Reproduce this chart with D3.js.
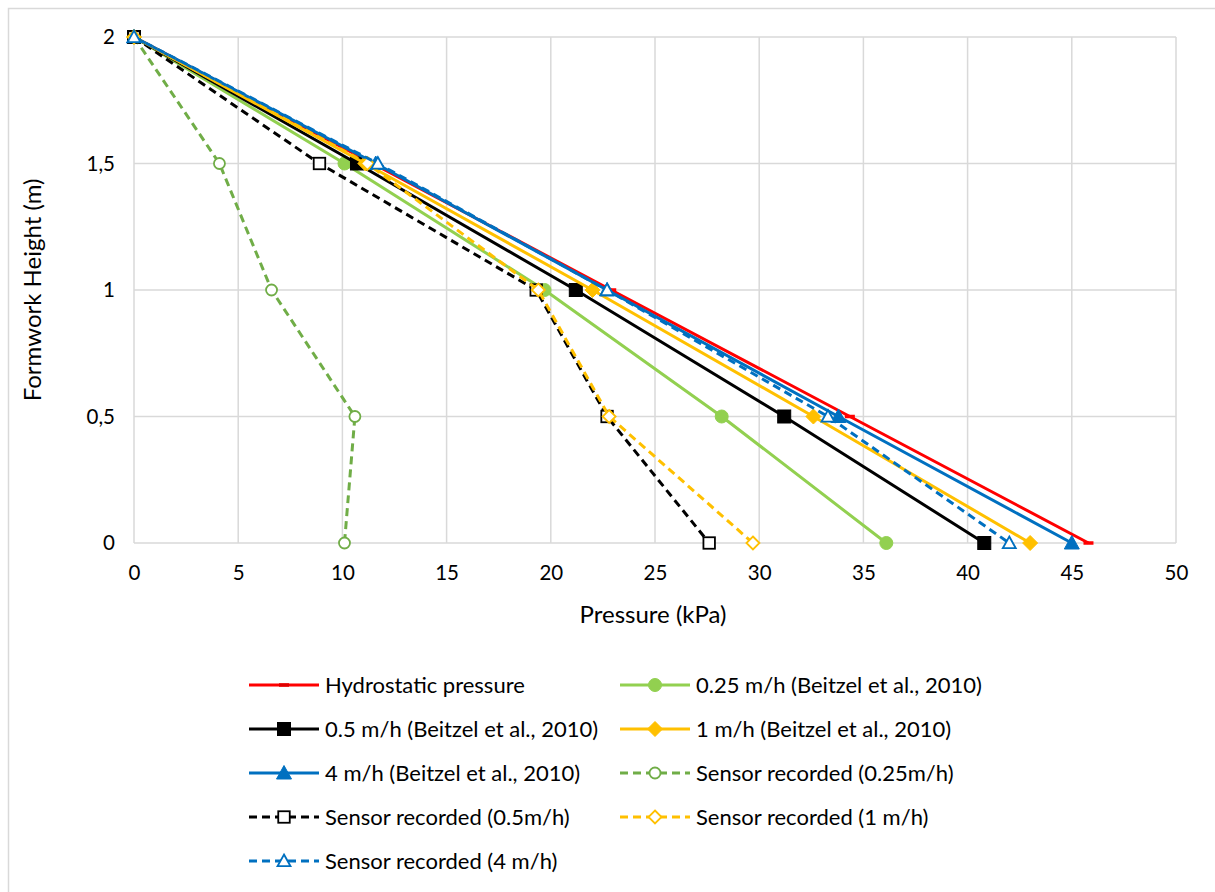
<!DOCTYPE html>
<meta charset="utf-8">
<script src="https://d3js.org/d3.v7.min.js"></script>
<style>
  body { margin: 0; background: #fff; }
  text { font-family: Lato, "Open Sans", sans-serif; fill: #000; }
</style>
<div id="chart"></div>
<script>

// heights (m) shared by every series
var heights = [2, 1.5, 1, 0.5, 0];

// pressures (kPa), one per height
var hydrostatic = [0, 11.45, 22.9, 34.35, 45.8];
var beitzel025 = [0, 10.1, 19.7, 28.2, 36.1];
var beitzel05 = [0, 10.7, 21.2, 31.2, 40.8];
var beitzel1 = [0, 11.1, 22.0, 32.6, 43.0];
var beitzel4 = [0, 11.6, 22.7, 33.8, 45.0];
var sensor025 = [0, 4.1, 6.6, 10.6, 10.1];
var sensor05 = [0, 8.9, 19.3, 22.7, 27.6];
var sensor1 = [0, 11.2, 19.4, 22.8, 29.7];
var sensor4 = [0, 11.7, 22.7, 33.3, 42.0];

var xTicks = [0, 5, 10, 15, 20, 25, 30, 35, 40, 45, 50];
var yTicks = [0, 0.5, 1, 1.5, 2];

var seriesNames = [
  "Hydrostatic pressure",
  "0.25 m/h (Beitzel et al., 2010)",
  "0.5 m/h (Beitzel et al., 2010)",
  "1 m/h (Beitzel et al., 2010)",
  "4 m/h (Beitzel et al., 2010)",
  "Sensor recorded (0.25m/h)",
  "Sensor recorded (0.5m/h)",
  "Sensor recorded (1 m/h)",
  "Sensor recorded (4 m/h)"
];
var seriesValues = [hydrostatic, beitzel025, beitzel05, beitzel1, beitzel4,
                    sensor025, sensor05, sensor1, sensor4];

// style per series
var styles = [
  {color: "#ff0000", dash: null, marker: "dash", fill: true},
  {color: "#92d050", dash: null, marker: "circle", fill: true},
  {color: "#000000", dash: null, marker: "square", fill: true},
  {color: "#ffc000", dash: null, marker: "diamond", fill: true},
  {color: "#0070c0", dash: null, marker: "triangle", fill: true},
  {color: "#70ad47", dash: "8,5", marker: "circle", fill: false},
  {color: "#000000", dash: "8,5", marker: "square", fill: false},
  {color: "#ffc000", dash: "8,5", marker: "diamond", fill: false},
  {color: "#0070c0", dash: "8,5", marker: "triangle", fill: false}
];

var W = 1215, H = 892;
var svg = d3.select("#chart")
  .append("svg")
    .attr("width", W)
    .attr("height", H);

// outer chart border
svg.append("rect")
  .attr("x", 8.5).attr("y", 8.5)
  .attr("width", W).attr("height", H)
  .attr("fill", "none")
  .attr("stroke", "#d9d9d9")
  .attr("stroke-width", 1.5);

var x = d3.scaleLinear().domain([0, 50]).range([134, 1176]);
var y = d3.scaleLinear().domain([0, 2]).range([543, 37]);

// gridlines
svg.append("g")
  .selectAll("line.vx")
  .data(xTicks)
  .enter()
  .append("line")
    .attr("x1", function (d) { return x(d); })
    .attr("x2", function (d) { return x(d); })
    .attr("y1", y(0)).attr("y2", y(2))
    .attr("stroke", "#d9d9d9")
    .attr("stroke-width", 1.5);

svg.append("g")
  .selectAll("line.hy")
  .data(yTicks)
  .enter()
  .append("line")
    .attr("x1", x(0)).attr("x2", x(50))
    .attr("y1", function (d) { return y(d); })
    .attr("y2", function (d) { return y(d); })
    .attr("stroke", "#d9d9d9")
    .attr("stroke-width", 1.5);

// axes (labels only, Excel style)
var xAxis = svg.append("g")
  .attr("transform", "translate(0," + y(0) + ")")
  .call(d3.axisBottom(x).tickValues(xTicks).tickSize(0).tickPadding(22));
var yAxis = svg.append("g")
  .attr("transform", "translate(" + x(0) + ",0)")
  .call(d3.axisLeft(y).tickValues(yTicks).tickSize(0).tickPadding(19)
    .tickFormat(function (d) { return String(d).replace(".", ","); }));
[xAxis, yAxis].forEach(function (a) {
  a.select(".domain").remove();
  a.selectAll("text")
    .style("font-family", "Lato, 'Open Sans', sans-serif")
    .style("font-size", "20.5px")
    .attr("fill", "#000");
});

// marker drawing
function drawMarker(g, type, cx, cy, st, big) {
  var fill = st.fill ? st.color : "#fff";
  var sw = st.fill ? 1 : 1.8;
  if (type === "circle") {
    g.append("circle").attr("cx", cx).attr("cy", cy)
      .attr("r", st.fill ? 6.5 : 5.5)
      .attr("fill", fill).attr("stroke", st.color).attr("stroke-width", sw);
  } else if (type === "square") {
    var s = st.fill ? 13 : 11.5;
    g.append("rect").attr("x", cx - s / 2).attr("y", cy - s / 2)
      .attr("width", s).attr("height", s)
      .attr("fill", fill).attr("stroke", st.color).attr("stroke-width", sw);
  } else if (type === "diamond") {
    var r = st.fill ? 7.5 : 6.5;
    g.append("path")
      .attr("d", "M" + cx + "," + (cy - r) + "L" + (cx + r) + "," + cy +
        "L" + cx + "," + (cy + r) + "L" + (cx - r) + "," + cy + "Z")
      .attr("fill", fill).attr("stroke", st.color).attr("stroke-width", sw);
  } else if (type === "triangle") {
    var t = st.fill ? 7.5 : 6.5;
    g.append("path")
      .attr("d", "M" + cx + "," + (cy - t) + "L" + (cx + t) + "," + (cy + t * 0.8) +
        "L" + (cx - t) + "," + (cy + t * 0.8) + "Z")
      .attr("fill", fill).attr("stroke", st.color).attr("stroke-width", sw);
  } else if (type === "dash") {
    g.append("line").attr("x1", cx - 5).attr("x2", cx + 5)
      .attr("y1", cy).attr("y2", cy)
      .attr("stroke", big ? "#e00000" : st.color).attr("stroke-width", 3.5);
  }
}

var line = d3.line()
  .x(function (d) { return x(d[0]); })
  .y(function (d) { return y(d[1]); });

// series
seriesValues.forEach(function (vals, i) {
  var st = styles[i];
  var pts = vals.map(function (v, j) { return [v, heights[j]]; });
  var g = svg.append("g");
  g.append("path")
    .datum(pts)
    .attr("d", line)
    .attr("fill", "none")
    .attr("stroke", st.color)
    .attr("stroke-width", 3)
    .attr("stroke-dasharray", st.dash)
    .attr("stroke-linejoin", "round");
  pts.forEach(function (p) {
    drawMarker(g, st.marker, x(p[0]), y(p[1]), st, false);
  });
});

// axis titles
svg.append("text")
  .attr("x", x(25) - 2)
  .attr("y", 623)
  .style("text-anchor", "middle")
  .style("font-size", "24px")
  .text("Pressure (kPa)");

svg.append("text")
  .attr("transform", "rotate(-90)")
  .attr("x", -y(1))
  .attr("y", 41)
  .style("text-anchor", "middle")
  .style("font-size", "24px")
  .text("Formwork Height (m)");

// legend
var legend = svg.append("g");
seriesNames.forEach(function (name, i) {
  var st = styles[i];
  var col = i % 2, row = Math.floor(i / 2);
  var lx = col === 0 ? 249 : 620;
  var ly = 685 + row * 44;
  var g = legend.append("g");
  g.append("line")
    .attr("x1", lx).attr("x2", lx + 70)
    .attr("y1", ly).attr("y2", ly)
    .attr("stroke", st.color)
    .attr("stroke-width", 3)
    .attr("stroke-dasharray", st.dash);
  drawMarker(g, st.marker, lx + 35, ly, st, true);
  g.append("text")
    .attr("x", lx + 76)
    .attr("y", ly + 8)
    .style("font-size", "22px")
    .text(name);
});

</script>
